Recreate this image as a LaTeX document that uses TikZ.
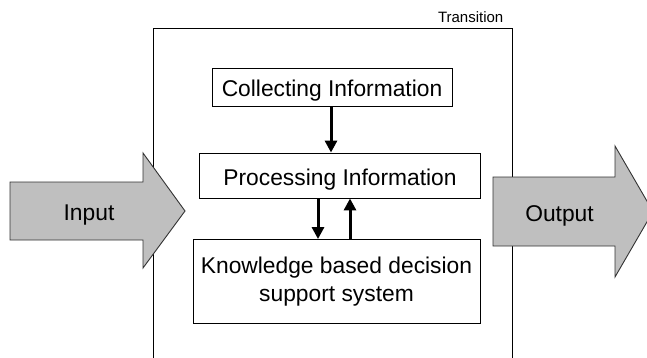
\documentclass[tikz,border=0pt]{standalone}
\usepackage{fontspec}
\setmainfont{Liberation Sans}
\usetikzlibrary{arrows.meta}
\tikzset{
  box/.style={draw=black, line width=0.9pt, fill=white, inner sep=0pt, align=center,
              font=\fontsize{22.8}{27}\selectfont, text height=21pt, text depth=1pt},
  bigarrow/.style={draw=black!80, line width=0.9pt, fill=black!25, line join=miter},
  flow/.style={line width=3pt, -{Triangle[length=12pt,width=12pt]}},
  lbl/.style={font=\fontsize{22.8}{27}\selectfont, inner sep=0pt, anchor=base},
}
\begin{document}
\begin{tikzpicture}[x=1pt,y=-1pt]
  \clip (0,0) rectangle (647,358);
  \fill[white] (0,0) rectangle (647,358);

  % transition frame, open at the bottom
  \draw[line width=0.9pt] (153,362) -- (153,28.5) -- (512.5,28.5) -- (512.5,362);
  \node[anchor=base east, font=\fontsize{15}{18}\selectfont, inner sep=0pt] (tr) at (503.5,23) {Transition};

  % input and output block arrows
  \draw[bigarrow] (10,182) -- (143,182) -- (143,153) -- (185,211) -- (143,268)
                  -- (143,240) -- (10,240) -- cycle;
  \node[lbl] (in) at (89,220) {Input};
  \draw[bigarrow] (493,177) -- (615,177) -- (615,146) -- (653,211.5) -- (615,277)
                  -- (615,246) -- (493,246) -- cycle;
  \node[lbl] (out) at (559.5,221) {Output};

  % process boxes
  \node[box, minimum width=240pt, minimum height=38pt] (col) at (332,87) {Collecting Information};
  \node[box, minimum width=281pt, minimum height=45pt] (proc) at (340,175.5) {Processing Information};
  \node[box, minimum width=287pt, minimum height=84pt, text height=, text depth=,
        font=\fontsize{22.8}{28.5}\selectfont] (kb) at (336.5,281.5)
       {Knowledge based decision\\support system};

  % information flow
  \draw[flow] (col.south -| 331,0) -- (proc.north -| 331,0);
  \draw[flow] (proc.south -| 318,0) -- (kb.north -| 318,0);
  \draw[flow] (kb.north -| 350,0) -- (proc.south -| 350,0);
\end{tikzpicture}
\end{document}
